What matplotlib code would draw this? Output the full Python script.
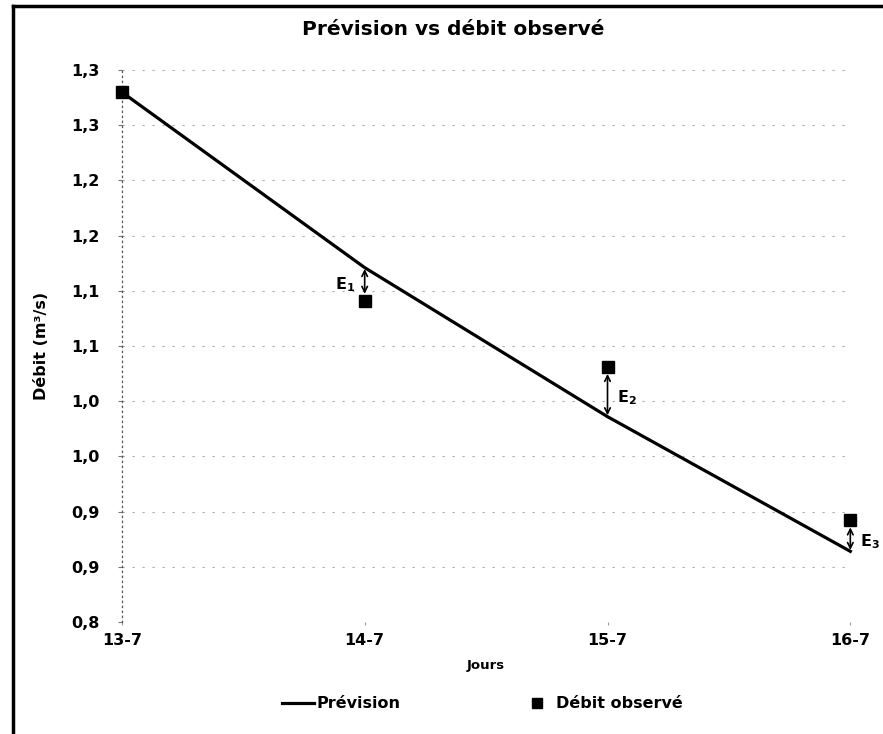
import matplotlib.pyplot as plt
from matplotlib.lines import Line2D

jours = ["13-7", "14-7", "15-7", "16-7"]
prevision = [1.280, 1.121, 0.986, 0.864]
debit_obs = [1.280, 1.091, 1.031, 0.892]
y_ticks = [0.80, 0.85, 0.90, 0.95, 1.00, 1.05, 1.10, 1.15, 1.20, 1.25, 1.30]
y_labels = ["0,8", "0,9", "0,9", "1,0", "1,0", "1,1", "1,1", "1,2", "1,2", "1,3", "1,3"]
erreurs = [(1, "E$_\\mathbf{1}$"), (2, "E$_\\mathbf{2}$"), (3, "E$_\\mathbf{3}$")]

plt.rcParams['font.family'] = 'DejaVu Sans'
plt.rcParams['font.weight'] = 'bold'
plt.rcParams['mathtext.default'] = 'bf'

fig = plt.figure(figsize=(8.83, 7.34), dpi=100)
ax = fig.add_axes([0.138, 0.1526, 0.825, 0.752])

x = list(range(len(jours)))
ax.plot(x, prevision, color='black', lw=2.3, label='Prévision', zorder=3,
        clip_on=False)
ax.plot(x, debit_obs, ls='none', marker='s', ms=9, color='black',
        label='Débit observé', zorder=4, clip_on=False)

# fleches d'erreur
for i, lab in erreurs:
    ax.annotate('', xy=(i, prevision[i]), xytext=(i, debit_obs[i]),
                arrowprops=dict(arrowstyle='<->', color='black', lw=1.2,
                                shrinkA=5, shrinkB=1), zorder=5,
                annotation_clip=False)
    mid = (prevision[i] + debit_obs[i]) / 2
    if i == 1:
        ax.annotate(lab, xy=(i, mid), xytext=(-7, 0), textcoords='offset points',
                    ha='right', va='center', fontsize=11.5, fontweight='bold')
    else:
        ax.annotate(lab, xy=(i, mid), xytext=(7, -4), textcoords='offset points',
                    ha='left', va='center', fontsize=11.5, fontweight='bold',
                    annotation_clip=False)

ax.set_xlim(0, 3)
ax.set_ylim(0.8, 1.3)
ax.set_xticks(x)
ax.set_xticklabels(jours)
ax.set_yticks(y_ticks)
ax.set_yticklabels(y_labels)
ax.tick_params(axis='y', length=3, pad=13, labelsize=11.5, color='#777777')
ax.tick_params(axis='x', length=2, pad=6, labelsize=11.5, color='#999999')

ax.grid(axis='y', ls=(0, (2, 7)), color='#aaaaaa', lw=0.8)
for s in ['top', 'right', 'bottom']:
    ax.spines[s].set_visible(False)
ax.spines['left'].set_linestyle((0, (1, 3)))
ax.spines['left'].set_color('#555555')
ax.spines['left'].set_linewidth(0.9)

ax.set_title('Prévision vs débit observé', fontsize=14.5, fontweight='heavy',
             pad=25, x=0.455)
ax.set_ylabel('Débit (m³/s)', fontsize=11.5, fontweight='bold', labelpad=16)
ax.set_xlabel('Jours', fontsize=9.5, fontweight='bold', labelpad=8)

fig.legend(loc='center', bbox_to_anchor=(0.546, 0.041), ncol=2, frameon=False,
           fontsize=11.5, handlelength=2.0, handletextpad=0.2,
           columnspacing=7.5, markerscale=0.8)

# cadre
fig.add_artist(Line2D([0.015, 0.015], [0, 0.992], color='black', lw=2.5))
fig.add_artist(Line2D([0.015, 1.0], [0.992, 0.992], color='black', lw=2.5))

fig.savefig('out.png')
